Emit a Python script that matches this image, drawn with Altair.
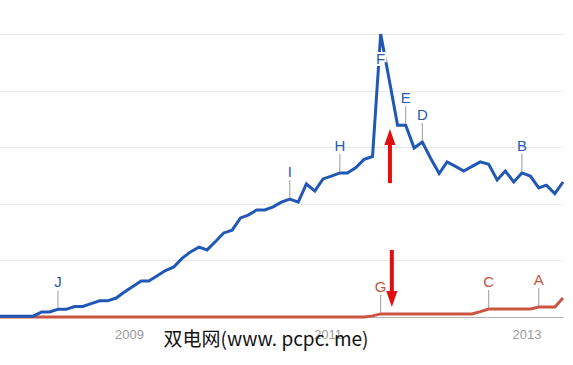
import altair as alt
import pandas as pd

# monthly search interest (index 0 = Sep 2007)
blue = [0.3, 0.3, 0.3, 0.3, 0.3, 1.8, 1.8, 2.7, 2.7, 3.7,
        3.7, 4.7, 5.7, 5.7, 6.7, 8.8, 10.8, 12.7, 12.7, 14.6,
        16.4, 17.7, 20.7, 23.0, 24.7, 23.7, 26.7, 29.7, 30.7, 35.0,
        36.0, 37.8, 37.8, 38.9, 40.6, 41.7, 40.6, 47.0, 44.5, 48.8,
        49.8, 50.9, 50.9, 52.8, 55.7, 56.7, 100.0, 84.0, 67.8, 67.8,
        59.7, 61.8, 56.0, 50.7, 54.8, 53.2, 51.6, 53.2, 54.8, 54.0,
        48.4, 51.6, 47.7, 50.9, 49.8, 45.6, 46.6, 43.6, 47.7]
red = [0.0] * 45 + [0.4, 1.1, 1.1, 1.1, 1.1, 1.1, 1.1, 1.1, 1.1, 1.1,
                    1.1, 1.1, 1.1, 1.9, 2.8, 2.8, 2.8, 2.8, 2.8, 2.8,
                    3.5, 3.5, 3.5, 6.7]

months = []
for i in range(len(blue)):
    m = 8 + i
    months.append(f"{2007 + m // 12}-{m % 12 + 1:02d}-15")

blue_letters = ["J", "I", "H", "E", "D", "B"]
blue_letter_idx = [7, 35, 41, 49, 51, 63]
peak_letter = ["F"]
peak_idx = [46]
red_letters = ["G", "C", "A"]
red_letter_idx = [46, 59, 65]

# red arrows: date, shaft start, shaft end, head centre
arrow_dates = ["2011-08-18", "2011-08-25"]
arrow_from = [47.3, 23.7]
arrow_to = [61.0, 9.0]
arrow_head = [63.6, 6.4]

year_ticks = [2009, 2011, 2013]
watermark = "双电网(www. pcpc. me)"

BLUE = "#2157b5"
RED = "#cc5541"
ARROW = "#e01010"

df_blue = pd.DataFrame({"date": months, "value": blue})
df_red = pd.DataFrame({"date": months, "value": red})
df_bl = pd.DataFrame({"date": [months[i] for i in blue_letter_idx],
                      "value": [blue[i] for i in blue_letter_idx],
                      "letter": blue_letters})
df_pk = pd.DataFrame({"date": [months[i] for i in peak_idx],
                      "value": [blue[i] for i in peak_idx],
                      "letter": peak_letter})
df_rl = pd.DataFrame({"date": [months[i] for i in red_letter_idx],
                      "value": [red[i] for i in red_letter_idx],
                      "letter": red_letters})
df_up = pd.DataFrame({"date": arrow_dates[:1], "value": arrow_from[:1],
                      "value2": arrow_to[:1], "head": arrow_head[:1]})
df_dn = pd.DataFrame({"date": arrow_dates[1:], "value": arrow_from[1:],
                      "value2": arrow_to[1:], "head": arrow_head[1:]})

x_enc = alt.X(
    "date:T",
    scale=alt.Scale(type="utc",
                    domain=[alt.DateTime(year=2007, month=9, date=15, utc=True),
                            alt.DateTime(year=2013, month=5, date=15, utc=True)],
                    nice=False),
    axis=alt.Axis(values=[alt.DateTime(year=y, month=1, date=1, utc=True) for y in year_ticks],
                  format="%Y", ticks=False, grid=False, title=None,
                  domainColor="#b0b0b0", domainWidth=1,
                  labelColor="#9a9a9a", labelFontSize=13, labelFont="Liberation Sans",
                  labelPadding=11, labelFlush=False, labelOverlap=False),
)
y_axis = alt.Axis(values=[0, 20, 40, 60, 80, 100], grid=True, gridColor="#e8e8e8",
                  gridWidth=1, labels=False, ticks=False, domain=False, title=None)
y_scale = alt.Scale(domain=[0, 100], nice=False)


def y_enc(field="value"):
    return alt.Y(f"{field}:Q", scale=y_scale, axis=y_axis)


red_line = alt.Chart(df_red).mark_line(color=RED, strokeWidth=3).encode(x=x_enc, y=y_enc())
blue_line = alt.Chart(df_blue).mark_line(color=BLUE, strokeWidth=3, strokeJoin="miter").encode(x=x_enc, y=y_enc())

blue_ticks = alt.Chart(df_bl).mark_rule(color="#9a9a9a", strokeWidth=1, yOffset=-1, y2Offset=-19).encode(
    x=x_enc, y=y_enc(), y2="value:Q")
red_ticks = alt.Chart(df_rl).mark_rule(color="#9a9a9a", strokeWidth=1, yOffset=-1, y2Offset=-19).encode(
    x=x_enc, y=y_enc(), y2="value:Q")
blue_text = alt.Chart(df_bl).mark_text(dy=-27, fontSize=15, font="Liberation Sans", color="#2a5aae").encode(
    x=x_enc, y=y_enc(), text="letter:N")
red_text = alt.Chart(df_rl).mark_text(dy=-27, fontSize=15, font="Liberation Sans", color="#c4553f").encode(
    x=x_enc, y=y_enc(), text="letter:N")
peak_halo = alt.Chart(df_pk).mark_text(dy=25, fontSize=15, font="Liberation Sans", color="white",
                                       stroke="white", strokeWidth=4).encode(
    x=x_enc, y=y_enc(), text="letter:N")
peak_text = alt.Chart(df_pk).mark_text(dy=25, fontSize=15, font="Liberation Sans", color="#2a5aae").encode(
    x=x_enc, y=y_enc(), text="letter:N")

up_shaft = alt.Chart(df_up).mark_rule(color=ARROW, strokeWidth=4).encode(x=x_enc, y=y_enc(), y2="value2:Q")
up_head = alt.Chart(df_up).mark_point(shape="M0,-1L0.7,1L-0.7,1Z", size=256, filled=True,
                                      color=ARROW, opacity=1, strokeWidth=0).encode(x=x_enc, y=y_enc("head"))
dn_shaft = alt.Chart(df_dn).mark_rule(color=ARROW, strokeWidth=4).encode(x=x_enc, y=y_enc(), y2="value2:Q")
dn_head = alt.Chart(df_dn).mark_point(shape="M0,1L0.7,-1L-0.7,-1Z", size=256, filled=True,
                                      color=ARROW, opacity=1, strokeWidth=0).encode(x=x_enc, y=y_enc("head"))

wm = alt.Chart(pd.DataFrame({"t": [watermark]})).mark_text(
    fontSize=19, font="Noto Sans CJK SC", color="#111111").encode(
    text="t:N", x=alt.value(266), y=alt.value(306))

chart = alt.layer(
    red_line, blue_line, blue_ticks, red_ticks, blue_text, red_text,
    peak_halo, peak_text, up_shaft, up_head, dn_shaft, dn_head, wm
).properties(
    width=563, height=283,
    autosize=alt.AutoSizeParams(type="none"),
    padding={"left": 0, "top": 34, "right": 10, "bottom": 48},
    background="white",
).configure_view(strokeWidth=0)

chart.save("out.html", embed_options={"renderer": "svg", "actions": False})
